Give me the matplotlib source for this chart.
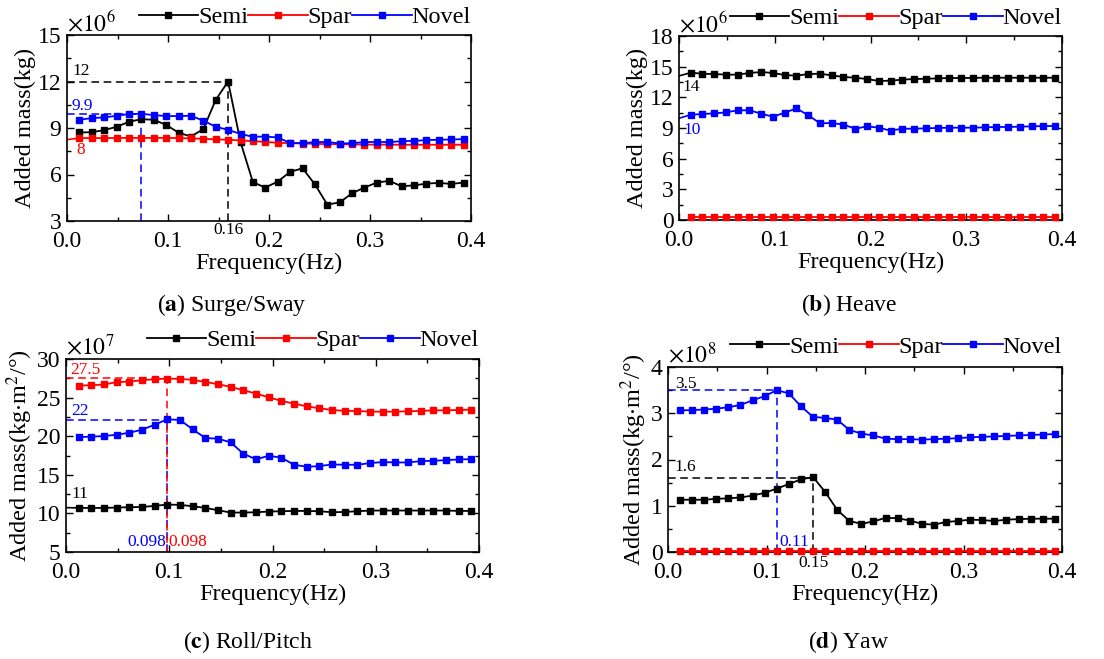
import matplotlib
matplotlib.use("Agg")
import matplotlib.pyplot as plt
from matplotlib.ticker import MultipleLocator, FormatStrFormatter

plt.rcParams['font.family'] = ['Liberation Serif', 'DejaVu Serif']
plt.rcParams['mathtext.fontset'] = 'stix'

# ---------------- data ----------------
freq = [0.0123, 0.0245, 0.0368, 0.0491, 0.0614, 0.0736, 0.0859, 0.0982,
        0.1104, 0.1227, 0.1350, 0.1473, 0.1595, 0.1718, 0.1841, 0.1963,
        0.2086, 0.2209, 0.2332, 0.2454, 0.2577, 0.2700, 0.2823, 0.2945,
        0.3068, 0.3191, 0.3313, 0.3436, 0.3559, 0.3682, 0.3804, 0.3927]

# (a) Surge/Sway, x10^6 kg
surge_semi = [8.71, 8.73, 8.86, 9.08, 9.40, 9.57, 9.53, 9.20, 8.70, 8.45, 8.93,
              10.82, 12.0, 8.09, 5.50, 5.16, 5.54, 6.17, 6.40, 5.37, 4.06, 4.20,
              4.79, 5.16, 5.48, 5.59, 5.24, 5.30, 5.41, 5.46, 5.39, 5.48]
surge_spar = [8.35, 8.35, 8.35, 8.36, 8.36, 8.36, 8.36, 8.36, 8.35, 8.33, 8.30,
              8.27, 8.24, 8.20, 8.15, 8.10, 8.05, 8.02, 8.00, 7.98, 7.96, 7.95,
              7.94, 7.93, 7.93, 7.93, 7.92, 7.92, 7.92, 7.92, 7.92, 7.92]
surge_novel = [9.53, 9.64, 9.68, 9.79, 9.90, 9.92, 9.83, 9.77, 9.77, 9.79, 9.47,
               9.08, 8.88, 8.62, 8.43, 8.45, 8.39, 8.04, 8.02, 8.09, 8.10, 8.00,
               8.02, 8.09, 8.10, 8.09, 8.15, 8.17, 8.22, 8.24, 8.26, 8.28]

# (b) Heave, x10^6 kg
heave_semi = [14.41, 14.31, 14.28, 14.22, 14.22, 14.38, 14.48, 14.38, 14.18,
              14.12, 14.28, 14.31, 14.15, 13.99, 13.92, 13.79, 13.60, 13.63,
              13.73, 13.79, 13.82, 13.85, 13.89, 13.89, 13.90, 13.92, 13.92,
              13.92, 13.92, 13.92, 13.92, 13.92]
heave_spar = [0.29] * 32
heave_novel = [10.30, 10.37, 10.43, 10.53, 10.73, 10.73, 10.40, 10.10, 10.50,
               10.92, 10.24, 9.46, 9.49, 9.33, 8.93, 9.16, 9.03, 8.74, 8.93,
               8.93, 8.97, 9.00, 9.03, 9.03, 9.03, 9.06, 9.10, 9.10, 9.13, 9.16,
               9.19, 9.19]

# (c) Roll/Pitch, x10^7 kg.m^2/deg
roll_semi = [10.71, 10.71, 10.71, 10.76, 10.80, 10.84, 10.97, 11.15, 11.10,
             10.93, 10.71, 10.41, 10.11, 10.11, 10.15, 10.24, 10.28, 10.32,
             10.32, 10.28, 10.15, 10.19, 10.28, 10.37, 10.37, 10.37, 10.37,
             10.37, 10.37, 10.37, 10.32, 10.32]
roll_spar = [26.56, 26.60, 26.70, 27.00, 27.08, 27.25, 27.38, 27.47, 27.42,
             27.30, 27.03, 26.73, 26.39, 25.95, 25.52, 25.04, 24.57, 24.22,
             23.87, 23.61, 23.40, 23.27, 23.27, 23.18, 23.18, 23.18, 23.23,
             23.27, 23.35, 23.35, 23.40, 23.44]
roll_novel = [19.89, 19.94, 20.02, 20.19, 20.45, 20.84, 21.49, 22.19, 22.10,
              20.89, 19.76, 19.68, 19.20, 17.73, 17.00, 17.47, 17.21, 16.30,
              16.04, 16.13, 16.34, 16.30, 16.30, 16.52, 16.65, 16.60, 16.60,
              16.77, 16.82, 16.90, 16.99, 17.03]

# (d) Yaw, x10^8 kg.m^2/deg
yaw_semi = [1.13, 1.13, 1.13, 1.15, 1.16, 1.18, 1.22, 1.28, 1.37, 1.47, 1.57,
            1.62, 1.30, 0.91, 0.67, 0.61, 0.66, 0.74, 0.73, 0.68, 0.61, 0.59,
            0.65, 0.67, 0.70, 0.69, 0.67, 0.70, 0.71, 0.72, 0.72, 0.72]
yaw_spar = [0.02] * 32
yaw_novel = [3.06, 3.07, 3.08, 3.10, 3.13, 3.18, 3.28, 3.37, 3.50, 3.43, 3.15,
             2.92, 2.90, 2.86, 2.64, 2.56, 2.52, 2.45, 2.44, 2.44, 2.43, 2.44,
             2.45, 2.46, 2.48, 2.49, 2.50, 2.51, 2.52, 2.53, 2.54, 2.55]

series_names = ['Semi', 'Spar', 'Novel']
series_colors = ['black', 'red', 'blue']

W, H = 1104, 659
fig = plt.figure(figsize=(W / 100, H / 100), dpi=100)


def px_axes(l, r, t, b):
    return fig.add_axes([l / W, 1 - b / H, (r - l) / W, (b - t) / H])


FS = 17.5
AFS = 12.5


def setup(ax, data, ylim, ystep, ylabel, expo, caption, cap_xy, leg_px):
    for vals, name, col in zip(data, series_names, series_colors):
        ax.plot(freq, vals, color=col, marker='s', markersize=4.7, lw=1.3,
                label=name, clip_on=False, zorder=3)
    ax.set_xlim(0, 0.4)
    ax.set_ylim(*ylim)
    ax.xaxis.set_major_locator(MultipleLocator(0.1))
    ax.xaxis.set_minor_locator(MultipleLocator(0.05))
    ax.yaxis.set_major_locator(MultipleLocator(ystep))
    ax.yaxis.set_minor_locator(MultipleLocator(ystep / 2))
    ax.xaxis.set_major_formatter(FormatStrFormatter('%.1f'))
    ax.yaxis.set_major_formatter(FormatStrFormatter('%g'))
    ax.tick_params(which='both', direction='in', top=True, right=True,
                   labelsize=17, width=1.0)
    ax.tick_params(which='major', length=5)
    ax.tick_params(which='minor', length=3)
    ax.tick_params(axis='x', which='major', pad=7)
    ax.tick_params(axis='y', which='major', pad=4)
    for s in ax.spines.values():
        s.set_linewidth(1.2)
    ax.set_xlabel('Frequency(Hz)', fontsize=FS, labelpad=1)
    ax.set_ylabel(ylabel, fontsize=FS, labelpad=1)
    ax.text(0.0, 0.995, r'$\times10^{%d}$' % expo, transform=ax.transAxes,
            fontsize=17, ha='left', va='bottom')
    h_px = ax.get_position().height * H
    ax.legend(loc='center right', bbox_to_anchor=(1.0, 1 + leg_px / h_px),
              ncol=3, frameon=False, fontsize=FS, handlelength=2.45,
              handletextpad=0.0, columnspacing=0.0, borderpad=0.0,
              borderaxespad=0.0)
    fig.text(cap_xy[0] / W, 1 - cap_xy[1] / H, caption, fontsize=17,
             ha='center', va='center')


# (a)
axa = px_axes(67, 471, 35, 221)
setup(axa, [surge_semi, surge_spar, surge_novel], (3, 15), 3,
      'Added mass(kg)', 6, r'($\mathbf{a}$) Surge/Sway', (232, 305), 18)
axa.plot([0, 0.1595], [12, 12], ls=(0, (5, 3)), color='black', lw=1.1)
axa.plot([0.1595, 0.1595], [3, 12], ls=(0, (5, 3)), color='black', lw=1.1)
axa.plot([0, 0.0736], [9.92, 9.92], ls=(0, (5, 3)), color='blue', lw=1.1)
axa.plot([0.0736, 0.0736], [3, 9.92], ls=(0, (5, 3)), color='blue', lw=1.1)
axa.plot([0, 0.0123], [8.25, 8.35], color='red', lw=1.2)
axa.text(0.005, 12.65, '12', fontsize=AFS, color='black', va='center')
axa.text(0.004, 10.45, '9.9', fontsize=AFS, color='blue', va='center')
axa.text(0.009, 7.6, '8', fontsize=AFS, color='red', va='center')
axa.text(0.1595, 2.42, '0.16', fontsize=AFS, color='black', ha='center',
         va='center', clip_on=False)

# (b)
axb = px_axes(679, 1062, 36, 220)
setup(axb, [heave_semi, heave_spar, heave_novel], (0, 18), 3,
      'Added mass(kg)', 6, r'($\mathbf{b}$) Heave', (849, 305), 18)
axb.plot([0, 0.0123], [14.1, 14.41], color='black', lw=1.2)
axb.plot([0, 0.0123], [9.95, 10.3], color='blue', lw=1.2)
axb.text(0.004, 13.0, '14', fontsize=AFS, color='black', va='center')
axb.text(0.005, 8.8, '10', fontsize=AFS, color='blue', va='center')

# (c)
axc = px_axes(66, 479, 359, 552)
setup(axc, [roll_semi, roll_spar, roll_novel], (5, 30), 5,
      r'Added mass(kg$\cdot$m$^2$/°)', 7, r'($\mathbf{c}$) Roll/Pitch',
      (248, 642), 19)
axc.plot([0, 0.0982], [27.5, 27.5], ls=(0, (5, 3)), color='red', lw=1.1)
axc.plot([0, 0.0982], [22.1, 22.1], ls=(0, (5, 3)), color='blue', lw=1.1)
axc.plot([0.0982, 0.0982], [5, 22.1], ls=(0, (5, 3)), color='blue', lw=1.1)
axc.plot([0.0982, 0.0982], [5, 27.5], ls=(2, (5, 3)), color='red', lw=1.1)
axc.plot([0, 0.0123], [10.75, 10.71], color='black', lw=1.2)
axc.text(0.004, 28.6, '27.5', fontsize=AFS, color='red', va='center')
axc.text(0.005, 23.3, '22', fontsize=AFS, color='blue', va='center')
axc.text(0.005, 12.5, '11', fontsize=AFS, color='black', va='center')
axc.text(0.097, 6.3, '0.098', fontsize=AFS, color='blue', ha='right',
         va='center')
axc.text(0.0995, 6.3, '0.098', fontsize=AFS, color='red', ha='left',
         va='center')

# (d)
axd = px_axes(668, 1062, 367, 552)
setup(axd, [yaw_semi, yaw_spar, yaw_novel], (0, 4), 1,
      r'Added mass(kg$\cdot$m$^2$/°)', 8, r'($\mathbf{d}$) Yaw', (849, 642),
      20)
axd.plot([0, 0.1104], [3.5, 3.5], ls=(0, (5, 3)), color='blue', lw=1.1)
axd.plot([0.1104, 0.1104], [0, 3.5], ls=(0, (5, 3)), color='blue', lw=1.1)
axd.plot([0, 0.1473], [1.6, 1.6], ls=(0, (5, 3)), color='black', lw=1.1)
axd.plot([0.1473, 0.1473], [0, 1.6], ls=(0, (5, 3)), color='black', lw=1.1)
axd.text(0.007, 3.64, '3.5', fontsize=AFS, color='black', va='center')
axd.text(0.007, 1.84, '1.6', fontsize=AFS, color='black', va='center')
axd.text(0.113, 0.21, '0.11', fontsize=AFS, color='blue', ha='left',
         va='center')
axd.text(0.148, -0.24, '0.15', fontsize=AFS, color='black', ha='center',
         va='center', clip_on=False)

fig.savefig('out.png', dpi=100)
